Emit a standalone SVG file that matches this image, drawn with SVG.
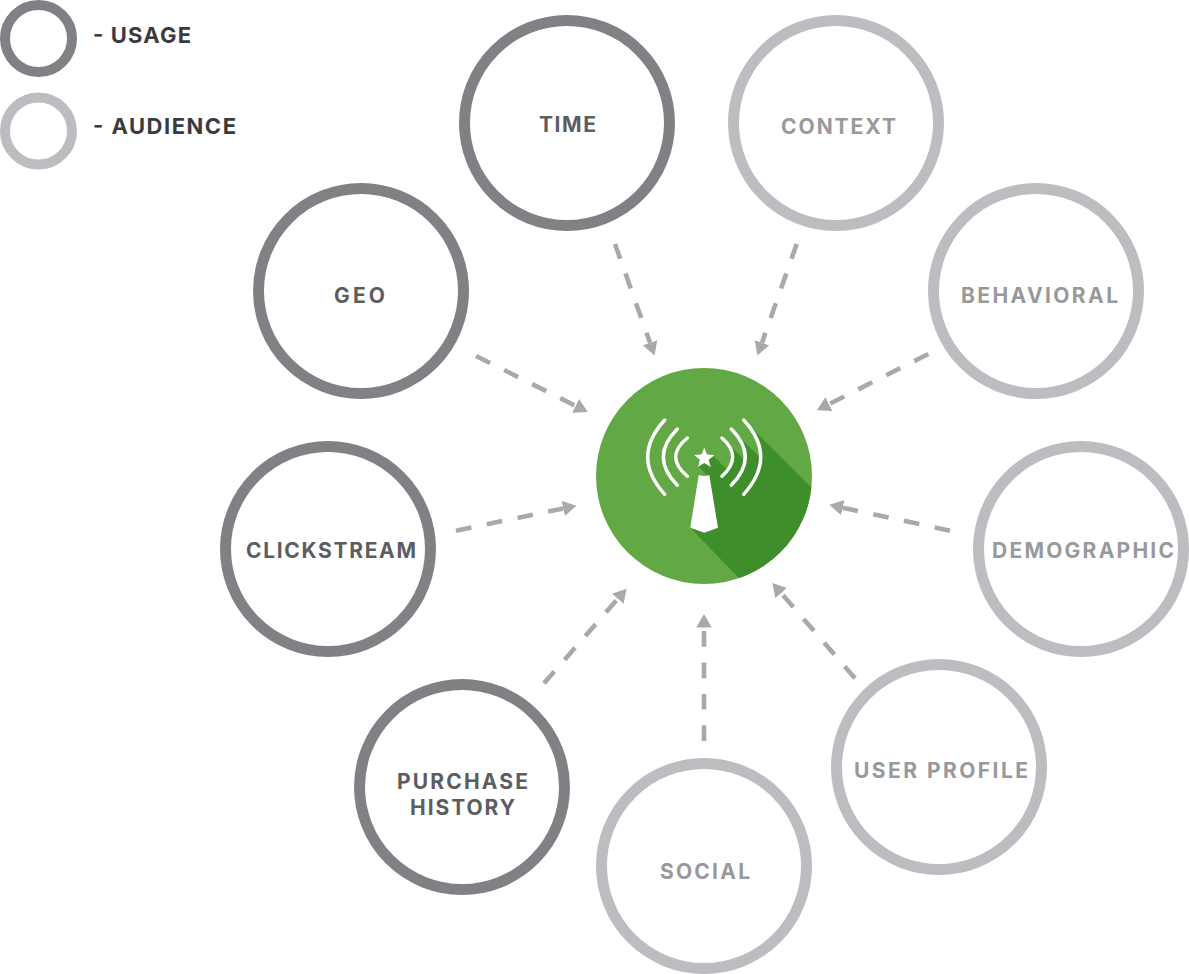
<svg xmlns="http://www.w3.org/2000/svg" width="1189" height="974" viewBox="0 0 1189 974">
<style>
text{font-family:"Inter","Liberation Sans",sans-serif;font-weight:700;font-size:21px;text-anchor:middle}
.u circle{fill:#fff;stroke:#808184;stroke-width:11}
.a circle{fill:#fff;stroke:#bbbdc0;stroke-width:11}
.u text{fill:#5c5d5f}
.a text{fill:#98999b}
.leg circle{stroke-width:10}
.leg text{fill:#3a3b42;text-anchor:start;font-size:22px}
#connectors line{stroke:#a7a9ac;stroke-width:4.6;stroke-dasharray:15.7 15.7;marker-end:url(#arr)}
.arc{fill:none;stroke:#fff;stroke-width:3.4;stroke-linecap:round}
</style>
<defs>
<marker id="arr" markerUnits="userSpaceOnUse" markerWidth="14" markerHeight="16" refX="0" refY="8" orient="auto"><path d="M0 0.300L13.500 8L0 15.700Z" fill="#a7a9ac"/></marker>
<clipPath id="disc"><circle cx="704" cy="476" r="108"/></clipPath>
</defs>
<g id="legend-usage" class="u leg"><circle cx="38.500" cy="38.500" r="33.500"/><text x="93" y="42.700" textLength="98" style="fill:#3a3b42">- USAGE</text></g>
<g id="legend-audience" class="a leg"><circle cx="38.500" cy="131" r="33.500"/><text x="93" y="134" textLength="143" style="fill:#3a3b42">- AUDIENCE</text></g>
<g id="connectors">
<line x1="615" y1="244" x2="650" y2="342.800"/>
<line x1="796.700" y1="244" x2="762" y2="342.700"/>
<line x1="928.300" y1="354" x2="828.900" y2="404.200"/>
<line x1="950" y1="530.700" x2="842.700" y2="507.700"/>
<line x1="855" y1="678.300" x2="781.200" y2="593.100"/>
<line x1="704" y1="741" x2="704" y2="627.500"/>
<line x1="544" y1="683.300" x2="617.800" y2="598.800"/>
<line x1="456" y1="530.700" x2="563.300" y2="508.400"/>
<line x1="476" y1="356" x2="575.700" y2="405.900"/>
</g>
<g id="time" class="u"><circle cx="567" cy="123" r="102.500"/><text x="567.500" y="131.700" textLength="57">TIME</text></g>
<g id="context" class="a"><circle cx="836" cy="123" r="102.500"/><text x="838.500" y="134" textLength="115">CONTEXT</text></g>
<g id="behavioral" class="a"><circle cx="1036" cy="291" r="102.500"/><text x="1039.500" y="303" textLength="157">BEHAVIORAL</text></g>
<g id="demographic" class="a"><circle cx="1081" cy="549" r="102.500"/><text x="1083" y="558" textLength="182">DEMOGRAPHIC</text></g>
<g id="user-profile" class="a"><circle cx="939" cy="767" r="102.500"/><text x="941" y="777.500" textLength="174">USER PROFILE</text></g>
<g id="social" class="a"><circle cx="704" cy="866" r="102.500"/><text x="705" y="879" textLength="90">SOCIAL</text></g>
<g id="purchase-history" class="u"><circle cx="462" cy="787" r="102.500"/><text x="462.500" y="789" textLength="131">PURCHASE</text><text x="462.500" y="815" textLength="105">HISTORY</text></g>
<g id="clickstream" class="u"><circle cx="328" cy="549" r="102.500"/><text x="331" y="558" textLength="170">CLICKSTREAM</text></g>
<g id="geo" class="u"><circle cx="361" cy="291" r="102.500"/><text x="359.500" y="303" textLength="51">GEO</text></g>
<g id="center">
<circle cx="704" cy="476" r="108" fill="#62a945"/>
<path clip-path="url(#disc)" fill="#3f8e2c" d="M743.700 420L830 506V600L760 600L690.300 527.700L704 500L707 475L697 465L714 456.500L726 468.500L729.500 468L732.700 457L728.500 445L722 438L745 460.500L745.300 457L742 445L731.300 429L759.300 457L760.700 457L755 437Z"/>
<path class="arc" d="M743.700 420Q777.700 457 743.700 494.300M731.300 429Q759.300 457 731.300 485.300M722 438Q743.400 457 722 476.300M664.700 420Q630.700 457 664.700 494.300M677.300 429Q649.300 457 677.300 485.300M687.300 438Q664.100 457 687.300 476.300"/>
<path fill="#fff" d="M704.300 447.500L707 454.500L714.500 455L708.700 459.700L710.700 467L704.300 463L697.900 467L699.900 459.700L694.100 455L701.600 454.500Z"/>
<path fill="#fff" d="M698.700 475Q704 477 709.300 475L718 527.700L704.300 532.700L690.300 527.700Z"/>
</g>
</svg>
